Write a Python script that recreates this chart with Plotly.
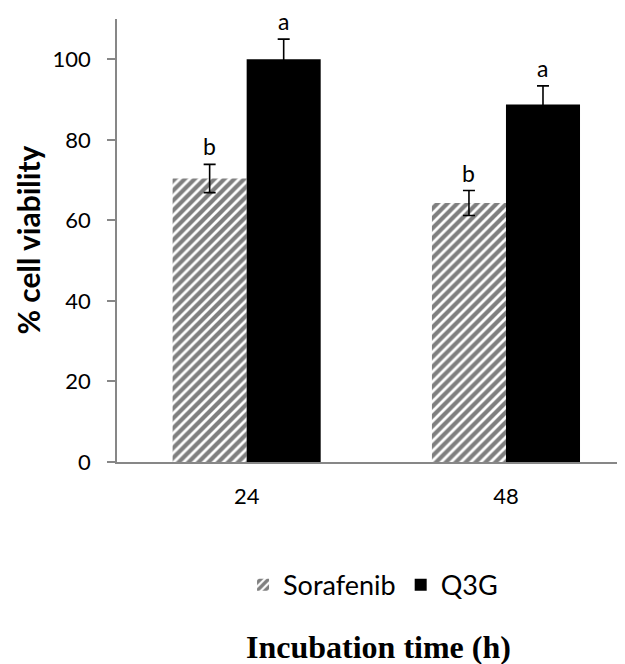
import plotly.graph_objects as go

# ---- data ----
categories = ["24", "48"]
sorafenib = [70.4, 64.3]
sorafenib_err = [3.5, 3.1]
q3g = [100.0, 88.8]
q3g_err = [5.0, 4.6]
sorafenib_letters = ["b", "b"]
q3g_letters = ["a", "a"]

BARGAP = 0.429
AXIS_GRAY = "#878787"
FONT = "Lato"

fig = go.Figure()
fig.add_trace(go.Bar(
    name="Sorafenib", x=categories, y=sorafenib,
    marker=dict(color="white",
                pattern=dict(shape="/", fgcolor="black", bgcolor="white",
                             size=7, solidity=0.6),
                line=dict(width=0)),
    error_y=dict(type="data", array=sorafenib_err, color="black",
                 thickness=1.6, width=6),
))
fig.add_trace(go.Bar(
    name="Q3G", x=categories, y=q3g,
    marker=dict(color="black", line=dict(width=0)),
    error_y=dict(type="data", array=q3g_err, color="black",
                 thickness=1.6, width=6),
))

# significance letters above error bars
bar_w = (1 - BARGAP) / 2
annotations = []
for i in range(len(categories)):
    for vals, errs, letters, off in [
        (sorafenib, sorafenib_err, sorafenib_letters, -bar_w / 2),
        (q3g, q3g_err, q3g_letters, bar_w / 2),
    ]:
        annotations.append(dict(
            x=i + off, y=vals[i] + errs[i], xref="x", yref="y",
            text=letters[i], showarrow=False, yanchor="bottom", yshift=2,
            font=dict(family=FONT, size=23, color="black"),
        ))

# axis titles
annotations.append(dict(
    x=-0.177, y=0.5, xref="paper", yref="paper", text="<b>% cell viability</b>",
    textangle=-90, showarrow=False, xanchor="center", yanchor="middle",
    font=dict(family=FONT, size=30, color="black"),
))
annotations.append(dict(
    x=0.514, y=-0.418, xref="paper", yref="paper", text="<b>Incubation time (h)</b>",
    showarrow=False, xanchor="center", yanchor="middle",
    font=dict(family="Liberation Serif", size=32, color="black"),
))

fig.update_layout(
    width=617, height=656,
    margin=dict(l=109, r=0, t=11, b=202),
    paper_bgcolor="white", plot_bgcolor="white",
    barmode="group", bargap=BARGAP, bargroupgap=0,
    showlegend=True,
    legend=dict(orientation="h", x=0.504, xanchor="center", y=-0.278,
                yanchor="middle", font=dict(family=FONT, size=27, color="black"),
                traceorder="normal", itemwidth=30),
    annotations=annotations,
    font=dict(family=FONT, color="black"),
)
fig.update_xaxes(
    type="category", range=[-0.5, 1.459],
    showline=True, linecolor=AXIS_GRAY, linewidth=1.5,
    ticks="", showgrid=False, zeroline=False,
    tickfont=dict(family=FONT, size=22, color="black"),
    ticklabelstandoff=14,
)
fig.update_yaxes(
    range=[0, 110], tickvals=[0, 20, 40, 60, 80, 100],
    showline=True, linecolor=AXIS_GRAY, linewidth=1.5,
    ticks="outside", ticklen=8, tickcolor=AXIS_GRAY, tickwidth=1.5,
    showgrid=False, zeroline=False,
    tickfont=dict(family=FONT, size=22, color="black"),
    ticklabelstandoff=12,
)

fig.write_html("out.html")
